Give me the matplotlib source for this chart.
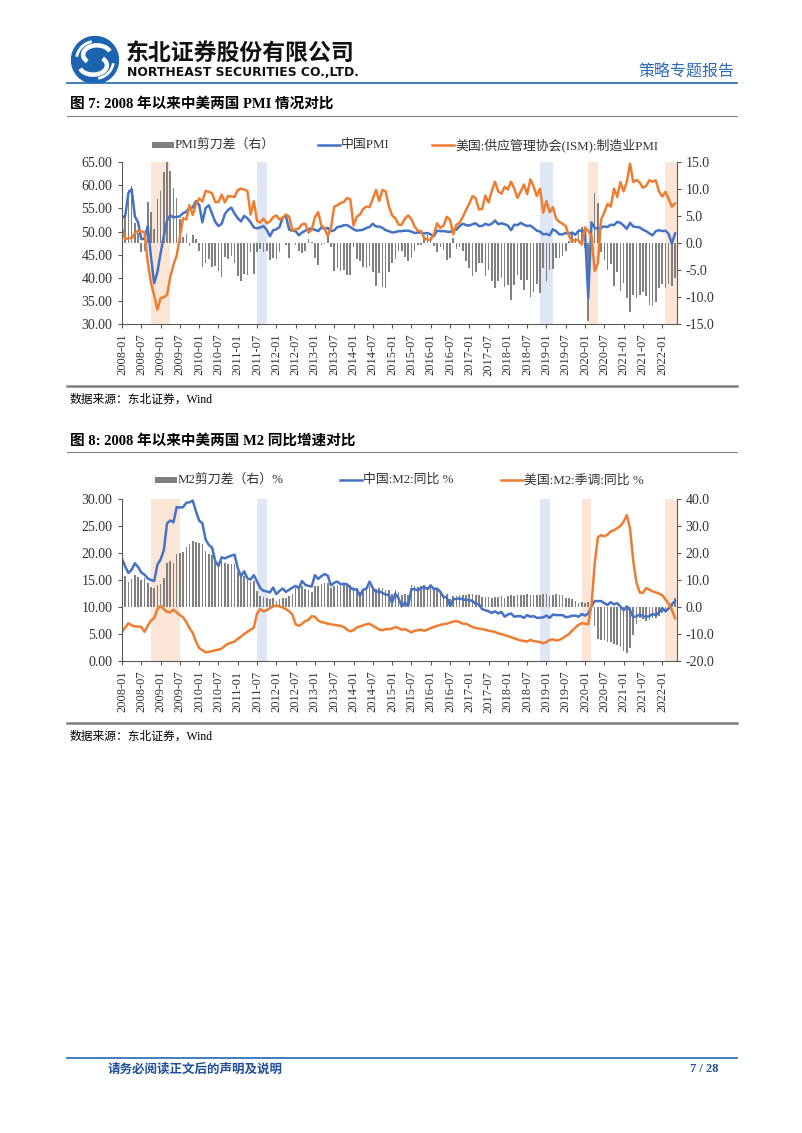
import matplotlib
matplotlib.use('Agg')
import matplotlib.pyplot as plt
from matplotlib.lines import Line2D
from matplotlib.patches import Rectangle, Circle, Arc
import numpy as np
import pandas as pd

plt.rcParams['axes.unicode_minus'] = False

# monthly axis 2008-01 .. 2022-05
months = pd.period_range('2008-01', '2022-05', freq='M').strftime('%Y-%m').tolist()
tick_labels = months[::6]

# China NBS manufacturing PMI
cn_pmi = [
    53.0, 53.4, 58.4, 59.2, 53.3, 52.0, 48.4, 48.4, 51.2, 44.6, 38.8, 41.2,
    45.3, 49.0, 52.4, 53.5, 53.1, 53.2, 53.3, 54.0, 54.3, 55.2, 55.2, 56.6,
    55.8, 52.0, 55.1, 55.7, 53.9, 52.1, 51.2, 51.7, 53.8, 54.7, 55.2, 53.9,
    52.9, 52.2, 53.4, 52.9, 52.0, 50.9, 50.7, 50.9, 51.2, 50.4, 49.0, 50.3,
    50.5, 51.0, 53.1, 53.3, 50.4, 50.2, 50.1, 49.2, 49.8, 50.2, 50.6, 50.6,
    50.4, 50.1, 50.9, 50.6, 50.8, 50.1, 50.3, 51.0, 51.1, 51.4, 51.4, 51.0,
    50.5, 50.2, 50.3, 50.4, 50.8, 51.0, 51.7, 51.1, 51.1, 50.8, 50.3, 50.1,
    49.8, 49.9, 50.1, 50.1, 50.2, 50.2, 50.0, 49.7, 49.8, 49.8, 49.6, 49.7,
    49.4, 49.0, 50.2, 50.1, 50.1, 50.0, 49.9, 50.4, 50.4, 51.2, 51.7, 51.4,
    51.3, 51.6, 51.8, 51.2, 51.2, 51.7, 51.4, 51.7, 52.4, 51.6, 51.8, 51.6,
    51.3, 50.3, 51.5, 51.4, 51.9, 51.5, 51.2, 51.3, 50.8, 50.2, 50.0, 49.4,
    49.5, 49.2, 50.5, 50.1, 49.4, 49.4, 49.7, 49.5, 49.8, 49.3, 50.2, 50.2,
    50.0, 35.7, 52.0, 50.8, 50.6, 50.9, 51.1, 51.0, 51.5, 51.4, 52.1, 51.9,
    51.3, 50.6, 51.9, 51.1, 51.0, 50.9, 50.4, 50.1, 49.6, 49.2, 50.1, 50.3,
    50.1, 50.2, 49.5, 47.4, 49.6,
]

# US ISM manufacturing PMI
us_pmi = [
    50.7, 48.3, 48.6, 48.6, 49.6, 50.2, 50.0, 49.9, 43.5, 38.9, 36.2, 33.1,
    35.6, 35.8, 36.3, 40.1, 42.8, 44.8, 48.9, 52.9, 52.6, 55.7, 53.6, 55.9,
    57.2, 56.5, 58.8, 58.6, 58.3, 56.4, 56.4, 58.0, 56.3, 57.7, 57.6, 57.5,
    59.0, 59.3, 59.1, 58.8, 53.7, 56.6, 52.3, 52.0, 52.8, 51.8, 52.2, 53.1,
    53.5, 52.6, 53.0, 53.7, 53.2, 50.2, 50.5, 50.7, 51.6, 51.7, 49.8, 50.4,
    53.1, 54.2, 51.3, 50.7, 49.0, 50.9, 55.4, 55.7, 56.2, 56.4, 57.3, 57.0,
    51.3, 53.2, 53.7, 54.9, 55.4, 55.3, 57.1, 59.0, 56.6, 59.0, 58.7, 55.5,
    53.5, 52.9, 51.5, 51.5, 52.8, 53.5, 52.7, 51.1, 50.2, 50.1, 48.6, 48.2,
    48.2, 49.5, 51.8, 50.8, 51.3, 53.2, 52.6, 49.4, 51.5, 51.9, 53.2, 54.7,
    56.0, 57.7, 57.2, 54.8, 54.9, 57.8, 56.3, 58.8, 60.8, 58.7, 58.2, 59.7,
    59.1, 60.8, 59.3, 57.3, 58.7, 60.2, 58.1, 61.3, 59.8, 57.7, 59.3, 54.1,
    56.6, 54.2, 55.3, 52.8, 52.1, 51.7, 51.2, 49.1, 47.8, 48.3, 48.1, 47.2,
    50.9, 50.1, 49.1, 41.5, 43.1, 52.6, 54.2, 56.0, 55.4, 59.3, 57.5, 60.7,
    58.7, 60.8, 64.7, 60.7, 61.2, 60.6, 59.5, 59.9, 61.1, 60.8, 61.1, 58.7,
    57.6, 58.6, 57.1, 55.4, 56.1,
]

# China M2 yoy %
cn_m2 = [
    18.9, 17.5, 16.3, 16.9, 18.1, 17.4, 16.4, 16.0, 15.3, 15.0, 14.8, 17.8,
    18.8, 20.5, 25.5, 26.0, 25.7, 28.5, 28.4, 28.5, 29.3, 29.4, 29.7, 27.7,
    26.0, 25.5, 22.5, 21.5, 21.0, 18.5, 17.6, 19.2, 19.0, 19.3, 19.5, 19.7,
    17.2, 15.7, 16.6, 15.3, 15.1, 15.9, 14.7, 13.5, 13.0, 12.9, 12.7, 13.6,
    12.4, 13.0, 13.4, 12.8, 13.2, 13.6, 13.9, 13.5, 14.8, 14.1, 13.9, 13.8,
    15.9, 15.2, 15.7, 16.1, 15.8, 14.0, 14.5, 14.7, 14.2, 14.3, 14.2, 13.6,
    13.2, 13.3, 12.1, 13.2, 13.4, 14.7, 13.5, 12.8, 12.9, 12.6, 12.3, 12.2,
    10.8, 12.5, 11.6, 10.1, 10.8, 10.2, 13.3, 13.3, 13.1, 13.5, 13.7, 13.3,
    14.0, 13.3, 13.4, 12.8, 11.8, 11.8, 10.2, 11.4, 11.5, 11.6, 11.4, 11.3,
    11.3, 11.1, 10.6, 10.5, 9.6, 9.4, 9.2, 8.9, 9.2, 8.8, 9.1, 8.2,
    8.6, 8.8, 8.2, 8.3, 8.3, 8.0, 8.5, 8.2, 8.3, 8.0, 8.0, 8.1,
    8.4, 8.0, 8.6, 8.5, 8.5, 8.5, 8.1, 8.2, 8.4, 8.4, 8.2, 8.7,
    8.4, 8.8, 10.1, 11.1, 11.1, 11.1, 10.7, 10.4, 10.9, 10.5, 10.7, 10.1,
    9.4, 10.1, 9.4, 8.1, 8.3, 8.6, 8.3, 8.2, 8.3, 8.7, 8.5, 9.0,
    9.8, 9.2, 9.7, 10.5, 11.1,
]

# US M2 (sa) yoy %
us_m2 = [
    5.4, 6.2, 7.0, 6.6, 6.4, 6.4, 6.3, 5.4, 6.5, 7.5, 7.9, 9.6,
    10.2, 9.6, 9.1, 9.0, 9.5, 9.0, 8.5, 8.1, 7.2, 6.1, 5.2, 3.6,
    2.4, 2.0, 1.6, 1.7, 1.8, 2.0, 2.1, 2.3, 2.8, 3.2, 3.4, 3.6,
    4.1, 4.5, 5.0, 5.4, 5.8, 6.2, 8.8, 9.6, 9.2, 9.4, 9.8, 10.1,
    10.3, 10.1, 9.9, 9.6, 9.2, 8.6, 6.8, 6.5, 6.9, 7.4, 7.6, 8.3,
    8.2, 7.5, 7.2, 7.1, 6.9, 6.8, 6.7, 6.6, 6.5, 6.3, 5.8, 5.5,
    5.7, 6.2, 6.4, 6.6, 6.8, 6.9, 6.5, 6.2, 5.8, 5.7, 5.9, 5.9,
    6.0, 6.3, 6.1, 5.8, 5.9, 5.6, 5.3, 5.6, 5.7, 5.8, 5.6, 5.8,
    6.1, 6.3, 6.5, 6.7, 6.8, 6.9, 7.1, 7.3, 7.4, 7.2, 6.9, 6.9,
    6.6, 6.3, 6.1, 6.0, 5.9, 5.8, 5.6, 5.5, 5.4, 5.1, 5.0, 4.8,
    4.6, 4.4, 4.2, 4.0, 3.8, 3.7, 3.6, 3.9, 3.7, 3.6, 3.5, 3.3,
    3.5, 3.9, 4.0, 3.8, 3.9, 4.2, 4.6, 5.0, 5.6, 6.2, 6.7, 7.0,
    6.9, 6.8, 10.3, 18.0, 22.9, 23.3, 23.1, 23.4, 24.0, 24.2, 24.6, 25.0,
    25.8, 27.0, 24.5, 18.5, 14.5, 12.7, 12.6, 13.5, 13.2, 12.9, 12.7, 12.5,
    12.2, 11.4, 10.6, 9.5, 7.9,
]

# shaded periods (start month, end month, kind); None = to the end
pmi_periods = [('2008-10', '2009-04', 'o'), ('2011-07', '2011-10', 'b'),
               ('2018-11', '2019-03', 'b'), ('2020-02', '2020-05', 'o'),
               ('2022-02', None, 'o')]
m2_periods = [('2008-10', '2009-07', 'o'), ('2011-07', '2011-10', 'b'),
              ('2018-11', '2019-02', 'b'), ('2019-12', '2020-03', 'o'),
              ('2022-02', None, 'o')]

BLUE = '#4472C4'
ORANGE = '#ED7D31'
GRAY = '#808080'
BAND = {'o': '#FBE5D6', 'b': '#DFE7F5'}
AXC = '#595959'
SERIF = ['Liberation Serif', 'Noto Sans CJK SC']
CJK = ['Noto Sans CJK SC', 'DejaVu Sans']
W, H = 802, 1133


def fx(px):
    return px / W


def fy(py):
    return 1 - py / H


fig = plt.figure(figsize=(W / 100, H / 100), dpi=100)


def hline(y, x0=67, x1=737, color='#808080', lw=0.8):
    fig.add_artist(Line2D([fx(x0), fx(x1)], [fy(y), fy(y)], color=color, lw=lw))


def draw_chart(top, bot, lines, gap, ylim_l, yt_l, ylim_r, yt_r, periods):
    ax = fig.add_axes([fx(122), fy(bot), (677 - 122) / W, (bot - top) / H])
    ax2 = ax.twinx()
    ax.set_zorder(ax2.get_zorder() + 1)
    ax.patch.set_visible(False)
    x = np.arange(len(months))
    xmax = 172.6
    for s, e, k in periods:
        x0 = months.index(s)
        x1 = months.index(e) if e else xmax + 1
        ax2.axvspan(x0, x1, color=BAND[k], lw=0, zorder=0)
    ax2.bar(x, gap, width=0.5, color=GRAY, lw=0, zorder=2)
    for vals, c in lines:
        ax.plot(x, vals, color=c, lw=1.8, solid_joinstyle='round')
    ax.set_xlim(0, xmax)
    ax.set_ylim(*ylim_l)
    ax2.set_ylim(*ylim_r)
    ax.set_xticks(x[::6])
    ax.set_xticklabels(tick_labels, rotation=90, fontsize=9, family='Liberation Serif')
    ax.set_yticks(yt_l)
    ax.set_yticklabels([f'{v:.2f}' for v in yt_l], fontsize=10, family='Liberation Serif')
    ax2.set_yticks(yt_r)
    ax2.set_yticklabels([f'{v:.1f}' for v in yt_r], fontsize=10, family='Liberation Serif')
    for a in (ax, ax2):
        a.tick_params(direction='out', length=3, width=0.8, color=AXC, labelcolor='#333333')
        for sp in a.spines.values():
            sp.set_color(AXC)
            sp.set_linewidth(0.8)
        a.spines['top'].set_visible(False)
    ax.spines['right'].set_visible(False)
    ax2.spines['left'].set_visible(False)
    ax2.spines['bottom'].set_visible(False)
    ax.tick_params(axis='x', pad=4)
    ax.tick_params(axis='y', pad=4)
    ax2.tick_params(axis='y', pad=3)
    return ax, ax2


def legend_item(kind, x, y, label, color):
    if kind == 'bar':
        fig.add_artist(Rectangle((fx(x), fy(y + 3)), 22 / W, 6 / H, color=GRAY, lw=0))
    else:
        fig.add_artist(Line2D([fx(x), fx(x + 22)], [fy(y), fy(y)], color=color, lw=1.8))
    fig.text(fx(x + 23), fy(y), label, fontsize=9.3, family=SERIF, va='center', color='#333333')


# ---- header
lax = fig.add_axes([fx(71), fy(84), 48 / W, 48 / H])
lax.set_xlim(-1, 1)
lax.set_ylim(-1, 1)
lax.set_aspect('equal')
lax.axis('off')
lax.add_patch(Circle((0, 0), 0.98, color='#1D64B0'))
lax.add_patch(Arc((0.08, 0.22), 1.15, 0.78, theta1=15, theta2=215, color='white', lw=3.2))
lax.add_patch(Arc((-0.08, -0.22), 1.15, 0.78, theta1=195, theta2=395, color='white', lw=3.2))
lax.add_patch(Arc((0, 0), 1.55, 1.55, theta1=100, theta2=170, color='white', lw=2))
lax.add_patch(Arc((0, 0), 1.55, 1.55, theta1=280, theta2=350, color='white', lw=2))

fig.text(fx(126), fy(53), '东北证券股份有限公司', fontsize=16.5, fontweight='bold',
         family=CJK, va='center', color='#111111')
fig.text(fx(127), fy(72), 'NORTHEAST SECURITIES CO.,LTD.', fontsize=8.9, fontweight='bold',
         family='DejaVu Sans', va='center', color='#111111')
fig.text(fx(734), fy(71), '策略专题报告', fontsize=11.5, family=CJK, ha='right',
         va='center', color='#2E6BB5')
hline(83, color='#2E75B6', lw=1.3)

# ---- chart 7
fig.text(fx(70), fy(104), '图 7: 2008 年以来中美两国 PMI 情况对比', fontsize=10.5,
         fontweight='bold', family=SERIF, va='center')
hline(116)
legend_item('bar', 152, 145, 'PMI剪刀差（右）', GRAY)
legend_item('line', 318, 145, '中国PMI', BLUE)
legend_item('line', 432, 145, '美国:供应管理协会(ISM):制造业PMI', ORANGE)
pmi_gap = np.array(cn_pmi) - np.array(us_pmi)
draw_chart(162.3, 324, [(cn_pmi, BLUE), (us_pmi, ORANGE)], pmi_gap,
           (30, 65), np.arange(30, 66, 5), (-15, 15), np.arange(-15, 16, 5), pmi_periods)
hline(386, color='#808080', lw=1.8)
fig.text(fx(70), fy(400), '数据来源：东北证券，Wind', fontsize=8.5, family=SERIF, va='center')

# ---- chart 8
fig.text(fx(70), fy(441), '图 8: 2008 年以来中美两国 M2 同比增速对比', fontsize=10.5,
         fontweight='bold', family=SERIF, va='center')
hline(452)
legend_item('bar', 155, 480, 'M2剪刀差（右）%', GRAY)
legend_item('line', 340, 480, '中国:M2:同比 %', BLUE)
legend_item('line', 501, 480, '美国:M2:季调:同比 %', ORANGE)
m2_gap = np.array(cn_m2) - np.array(us_m2)
draw_chart(499, 661, [(cn_m2, BLUE), (us_m2, ORANGE)], m2_gap,
           (0, 30), np.arange(0, 31, 5), (-20, 40), np.arange(-20, 41, 10), m2_periods)
hline(723, color='#808080', lw=1.8)
fig.text(fx(70), fy(737), '数据来源：东北证券，Wind', fontsize=8.5, family=SERIF, va='center')

# ---- footer
hline(1058, color='#2E75B6', lw=1.3)
fig.text(fx(108), fy(1069), '请务必阅读正文后的声明及说明', fontsize=9, fontweight='bold',
         family=CJK, va='center', color='#1F4E9A')
fig.text(fx(719), fy(1069), '7 / 28', fontsize=9, fontweight='bold', family=SERIF,
         ha='right', va='center', color='#1F4E9A')

fig.savefig('out.png', dpi=100)
